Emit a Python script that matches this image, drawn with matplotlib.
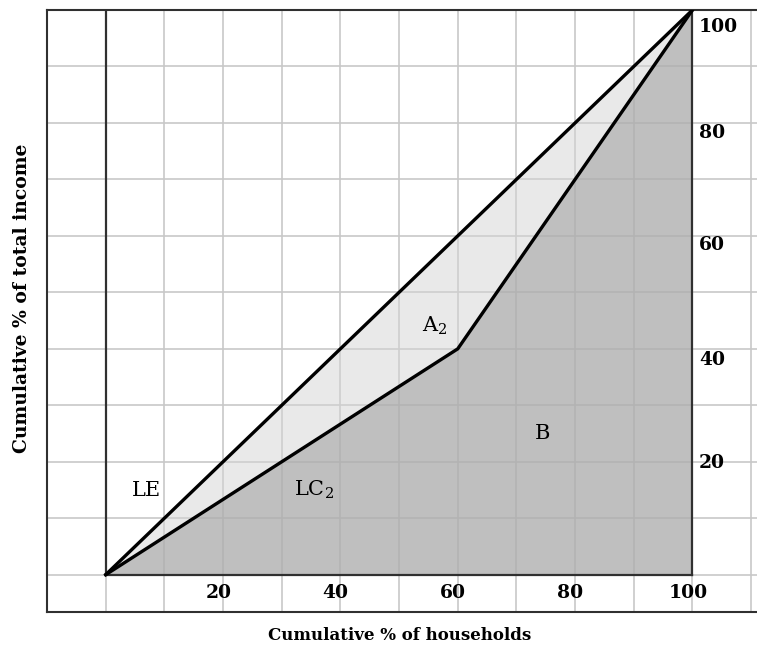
import matplotlib.pyplot as plt

plt.rcParams['mathtext.fontset'] = 'dejavuserif'

# cumulative shares (percent)
households = [0, 60, 100]
income_lc2 = [0, 40, 100]
equality = [0, 100]
tick_values = [20, 40, 60, 80, 100]
region_labels = ["LE", "LC$_2$", "A$_2$", "B"]
region_pos = [(7, 15), (35.5, 15), (56, 44), (74.5, 25)]

fig = plt.figure(figsize=(7.57, 6.55), dpi=100)
ax = fig.add_axes([47 / 757, 43 / 655, 710 / 757, 602 / 655])
ax.set_xlim(-10, 111)
ax.set_ylim(-6.6, 100)

# grid
for gx in range(-10, 120, 10):
    ax.axvline(gx, color='#c8c8c8', lw=1.2, zorder=1)
for gy in range(0, 110, 10):
    ax.axhline(gy, color='#c8c8c8', lw=1.2, zorder=1)

# shaded areas: B under the Lorenz curve, A2 between it and the equality line
ax.fill_between(households, income_lc2, 0, color='#aeaeae', alpha=0.78, lw=0, zorder=3)
ax.fill_between(households, income_lc2, households, color='#d4d4d4', alpha=0.49, lw=0, zorder=2)

# box lines
ax.plot([0, 0], [0, 100], color='#303030', lw=1.6, zorder=4)
ax.plot([100, 100], [0, 100], color='#303030', lw=1.6, zorder=4)
ax.plot([0, 100], [0, 0], color='#303030', lw=1.6, zorder=4)

# line of equality and Lorenz curve
ax.plot(equality, equality, color='black', lw=2.4, zorder=5, solid_capstyle='round')
ax.plot(households, income_lc2, color='black', lw=2.4, zorder=5, solid_joinstyle='miter')

# tick labels
y_shift = [-0.2, -1.9, -1.6, -1.8, -3.0]
for v, dy in zip(tick_values, y_shift):
    ax.text(v - 0.8, -3.2, str(v), ha='center', va='center', fontsize=13.5,
            fontweight='bold', family='DejaVu Serif', zorder=6)
    ax.text(101.1, v + dy, str(v), ha='left', va='center', fontsize=13.5,
            fontweight='bold', family='DejaVu Serif', zorder=6)

for lab, (px, py) in zip(region_labels, region_pos):
    ax.text(px, py, lab, ha='center', va='center', fontsize=15,
            family='DejaVu Serif', zorder=6)

ax.set_xticks([])
ax.set_yticks([])
for s in ['left', 'top', 'bottom']:
    ax.spines[s].set_color('#303030')
    ax.spines[s].set_linewidth(1.5)
ax.spines['right'].set_visible(False)

fig.text(400 / 757, 1 - 636 / 655, 'Cumulative % of households', ha='center', va='center',
         fontsize=12, fontweight='bold', family='DejaVu Serif')
fig.text(22 / 757, 1 - 298 / 655, 'Cumulative % of total income', ha='center', va='center',
         rotation=90, fontsize=13.5, fontweight='bold', family='DejaVu Serif')

fig.savefig('out.png', dpi=100)
